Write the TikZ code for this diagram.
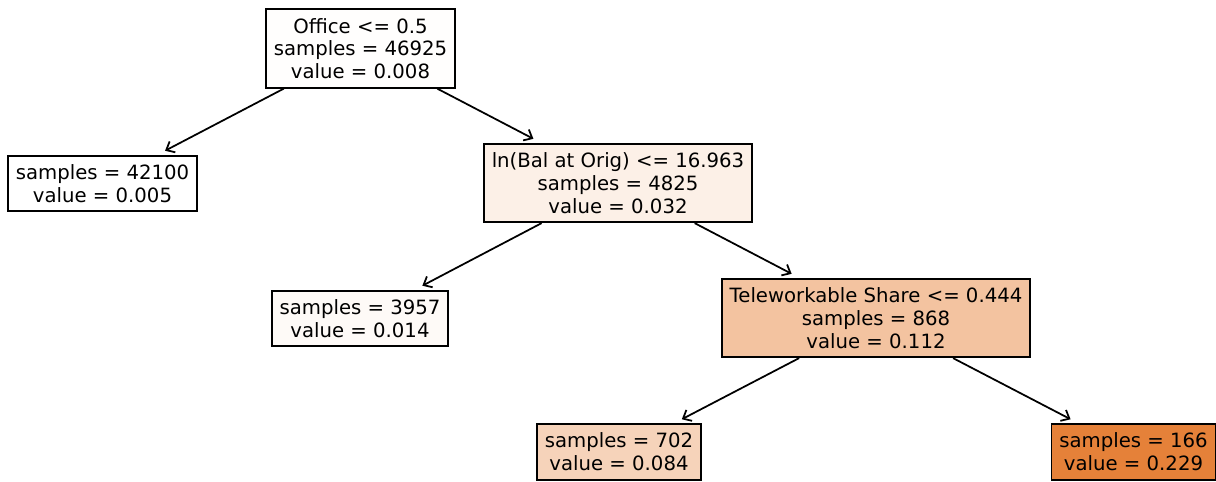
\documentclass[tikz,border=0pt]{standalone}
\usepackage{fontspec}
\setmainfont{DejaVu Sans}
\usepackage{xcolor}
\usetikzlibrary{arrows.meta}
\definecolor{leaforange}{RGB}{229,129,57}

\begin{document}
\begin{tikzpicture}[x=0.02cm, y=-0.02cm,
    treebox/.style={draw=black, line width=1pt, align=center,
        inner xsep=4.5pt, inner ysep=5pt,
        font=\fontsize{11.2}{13}\selectfont},
    treeedge/.style={-{Straight Barb[length=4pt,width=7pt]}, line width=1pt, shorten >=5pt}]

% page frame (1216 x 481 px)
\useasboundingbox (0,0) rectangle (1216,481);

% ==========================================
% split nodes
% ==========================================
\node[treebox, fill=leaforange!1] (root) at (360.5,48.5)
    {Office <= 0.5\\samples = 46925\\value = 0.008};
\node[treebox, fill=leaforange!12] (split) at (618,183)
    {ln(Bal at Orig) <= 16.963\\samples = 4825\\value = 0.032};
\node[treebox, fill=leaforange!48] (tele) at (876,318)
    {Teleworkable Share <= 0.444\\samples = 868\\value = 0.112};

% ==========================================
% leaves
% ==========================================
\node[treebox, fill=white] (leafl) at (102.5,183.5)
    {samples = 42100\\value = 0.005};
\node[treebox, fill=leaforange!4] (leafm) at (360,318.5)
    {samples = 3957\\value = 0.014};
\node[treebox, fill=leaforange!35] (leafa) at (619,452)
    {samples = 702\\value = 0.084};
\node[treebox, fill=leaforange] (leafb) at (1133.5,452)
    {samples = 166\\value = 0.229};

% edges
\draw[treeedge] (root) -- (leafl);
\draw[treeedge] (root) -- (split);
\draw[treeedge] (split) -- (leafm);
\draw[treeedge] (split) -- (tele);
\draw[treeedge] (tele) -- (leafa);
\draw[treeedge] (tele) -- (leafb);

\end{tikzpicture}
\end{document}
